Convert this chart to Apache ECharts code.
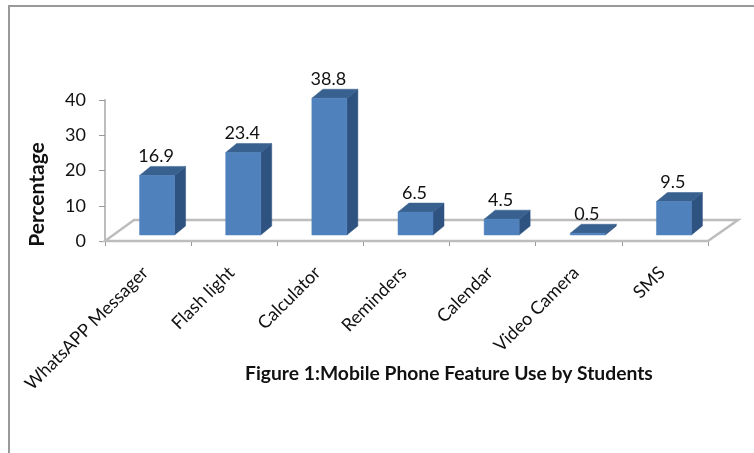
<!DOCTYPE html>
<html>
<head>
<meta charset="utf-8">
<style>html,body{margin:0;padding:0;background:#fff}#c{width:754px;height:453px}</style>
<script src="https://cdn.jsdelivr.net/npm/echarts@6/dist/echarts.min.js"></script>
</head>
<body>
<div id="c"></div>
<script>
const categories = ['WhatsAPP Messager','Flash light','Calculator','Reminders','Calendar','Video Camera','SMS'];
const percentages = [16.9,23.4,38.8,6.5,4.5,0.5,9.5];
const yTicks = {min:0,max:40,interval:10};
const figureTitle = 'Figure 1:Mobile Phone Feature Use by Students';
const yName = 'Percentage';
const font = 'Lato, "Open Sans", sans-serif';

const BAR_W = 35, DX = 11, DY = 9, BASE_UP = 6, LEFT_OFF = -8.5;

function renderBar(params, api) {
  const i = api.value(0), v = api.value(1);
  const top = api.coord([i, v]), base = api.coord([i, 0]);
  const x0 = top[0] + LEFT_OFF, x1 = x0 + BAR_W;
  const yb = base[1] - BASE_UP, yt = top[1] - BASE_UP;
  const poly = (pts, fill) => ({type:'polygon', shape:{points:pts}, style:{fill, stroke:fill, lineWidth:0.5}});
  return {type:'group', children:[
    poly([[x1,yb],[x1+DX,yb-DY],[x1+DX,yt-DY],[x1,yt]], '#2F5380'),
    poly([[x0,yt],[x0+DX,yt-DY],[x1+DX,yt-DY],[x1,yt]], '#38618F'),
    poly([[x0,yb],[x1,yb],[x1,yt],[x0,yt]], '#4F81BD'),
    {type:'text', style:{text:String(v), x:(x0+x1)/2 - 1, y:yt-DY-10, align:'center', verticalAlign:'middle',
      font:'18px '+font, fill:'#111'}}
  ]};
}

function renderFloor(params, api) {
  const c = params.coordSys, l = c.x, r = c.x + c.width, b = c.y + c.height;
  const dx = 29, dy = 21;
  return {type:'polygon', shape:{points:[[l,b],[l+dx,b-dy],[r+dx+1,b-dy],[r,b]]},
    style:{fill:'#fff', stroke:'#BDBDBD', lineWidth:2.5}};
}

const chart = echarts.init(document.getElementById('c'), null, {renderer:'canvas'});
chart.setOption({
  animation:false,
  backgroundColor:'#fff',
  title:{text:figureTitle, left:240, top:359, textStyle:{fontFamily:font, fontSize:19.3, fontWeight:'bold', color:'#111'}},
  grid:{left:105, right:46, top:100, bottom:212},
  xAxis:{type:'category', data:categories,
    axisLine:{lineStyle:{color:'#BDBDBD', width:2}},
    axisTick:{show:true, length:5, lineStyle:{color:'#999'}},
    axisLabel:{rotate:45, interval:0, margin:26, padding:[0,4,0,0], fontFamily:font, fontSize:18, color:'#111'}},
  yAxis:{type:'value', min:yTicks.min, max:yTicks.max, interval:yTicks.interval,
    name:yName, nameLocation:'middle', nameGap:57, nameRotate:90,
    nameTextStyle:{fontFamily:font, fontSize:21, fontWeight:'bold', color:'#111', padding:[0,48,0,0]},
    splitLine:{show:false},
    axisLine:{show:true, lineStyle:{color:'#BDBDBD', width:2}},
    axisTick:{show:true, length:6, lineStyle:{color:'#999'}},
    axisLabel:{margin:19, padding:[2,0,0,0], fontFamily:font, fontSize:18, color:'#111'}},
  series:[
    {type:'custom', coordinateSystem:'cartesian2d', renderItem:renderFloor, data:[[0,0]], z:1, silent:true, clip:false},
    {type:'custom', coordinateSystem:'cartesian2d', renderItem:renderBar,
      data:percentages.map((v,i)=>[i,v]), encode:{x:0,y:1}, z:3, clip:false}
  ],
  graphic:[
    {type:'polyline', silent:true, shape:{points:[[9,453],[9,6],[754,6]]}, style:{fill:null, stroke:'#999', lineWidth:2}}
  ]
});
</script>
</body>
</html>
